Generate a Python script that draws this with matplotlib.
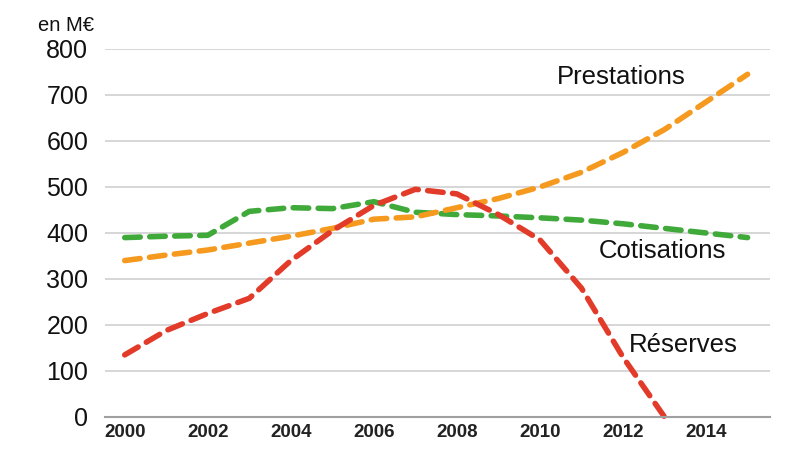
import matplotlib
matplotlib.use("Agg")
import matplotlib.pyplot as plt

# data (en M€)
years = list(range(2000, 2016))
prestations = [340, 352, 363, 378, 393, 410, 430, 435, 455, 475, 500, 532, 575, 625, 685, 745]
cotisations = [390, 393, 395, 447, 455, 453, 468, 445, 440, 437, 433, 428, 420, 410, 400, 390]
reserves_years = list(range(2000, 2014))
reserves = [135, 188, 225, 258, 340, 405, 460, 495, 485, 440, 385, 280, 130, 0]

xticks = [2000, 2002, 2004, 2006, 2008, 2010, 2012, 2014]
yticks = [0, 100, 200, 300, 400, 500, 600, 700, 800]

plt.rcParams['font.family'] = ['Liberation Sans', 'DejaVu Sans']

fig = plt.figure(figsize=(8, 4.49), dpi=100)
ax = fig.add_axes([0.131, 0.0713, 0.8315, 0.8196])

style = dict(lw=4.0, linestyle=(0, (2.8, 1.7)), dash_capstyle='round',
             solid_joinstyle='round', clip_on=False)
ax.plot(years, cotisations, color='#3fa93a', **style)
ax.plot(years, prestations, color='#f59a1f', **style)
ax.plot(reserves_years, reserves, color='#e23b2a', **style)

ax.set_xlim(1999.52, 2015.54)
ax.set_ylim(0, 800)
ax.set_xticks(xticks)
ax.set_yticks(yticks)
ax.set_xticklabels([str(x) for x in xticks], fontsize=13.5, fontweight='bold', color='#222222')
ax.set_yticklabels([str(y) for y in yticks], fontsize=18, color='#111111')
ax.tick_params(axis='x', length=0, pad=5)
ax.tick_params(axis='y', length=0, pad=12)

ax.grid(axis='y', color='#d0d0d0', lw=1.2)
ax.set_axisbelow(True)
for s in ['top', 'right', 'left']:
    ax.spines[s].set_visible(False)
ax.spines['bottom'].set_color('#a0a0a0')
ax.spines['bottom'].set_linewidth(1.5)

ax.text(2011.95, 740, 'Prestations', fontsize=18.5, ha='center', va='center', color='#111111')
ax.text(2012.95, 360, 'Cotisations', fontsize=18.5, ha='center', va='center', color='#111111')
ax.text(2013.45, 157, 'Réserves', fontsize=18.5, ha='center', va='center', color='#111111')
fig.text(0.083, 0.944, 'en M€', fontsize=14.5, ha='center', va='center', color='#111111')

plt.savefig("out.png", dpi=100)
